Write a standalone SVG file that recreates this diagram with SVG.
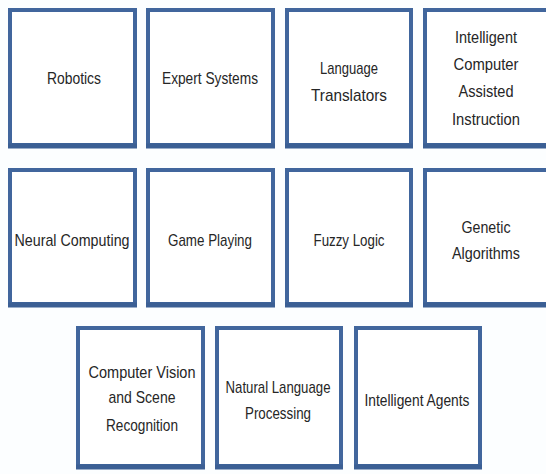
<svg xmlns="http://www.w3.org/2000/svg" width="546" height="474" viewBox="0 0 546 474">
<style>
.box rect{fill:#ffffff;stroke:#41669d;stroke-width:4}
.box line{stroke:#3b5f94;stroke-width:5}
.box text{font-family:"Liberation Sans","Noto Sans",sans-serif;font-size:17px;fill:#262626;text-anchor:middle}
</style>
<rect width="546" height="474" fill="#fcfeff"/>
<g id="robotics" class="box"><rect x="10" y="10" width="125" height="135"/><line x1="8" y1="146" x2="137" y2="146"/><text x="74" y="84" textLength="54" lengthAdjust="spacingAndGlyphs">Robotics</text></g>
<g id="expert-systems" class="box"><rect x="148" y="10" width="125" height="135"/><line x1="146" y1="146" x2="275" y2="146"/><text x="210" y="84" textLength="96" lengthAdjust="spacingAndGlyphs">Expert Systems</text></g>
<g id="language-translators" class="box"><rect x="287" y="10" width="124" height="135"/><line x1="285" y1="146" x2="413" y2="146"/><text x="349" y="74" textLength="58" lengthAdjust="spacingAndGlyphs">Language</text><text x="349" y="101" textLength="76" lengthAdjust="spacingAndGlyphs">Translators</text></g>
<g id="icai" class="box"><rect x="425" y="10" width="125" height="135"/><line x1="423" y1="146" x2="546" y2="146"/><text x="486" y="43" textLength="62" lengthAdjust="spacingAndGlyphs">Intelligent</text><text x="486" y="70" textLength="65" lengthAdjust="spacingAndGlyphs">Computer</text><text x="486" y="97" textLength="55" lengthAdjust="spacingAndGlyphs">Assisted</text><text x="486" y="125" textLength="68" lengthAdjust="spacingAndGlyphs">Instruction</text></g>
<g id="neural-computing" class="box"><rect x="10" y="170" width="125" height="134"/><line x1="8" y1="305" x2="137" y2="305"/><text x="72" y="246" textLength="115" lengthAdjust="spacingAndGlyphs">Neural Computing</text></g>
<g id="game-playing" class="box"><rect x="148" y="170" width="125" height="134"/><line x1="146" y1="305" x2="275" y2="305"/><text x="210" y="246" textLength="84" lengthAdjust="spacingAndGlyphs">Game Playing</text></g>
<g id="fuzzy-logic" class="box"><rect x="287" y="170" width="124" height="134"/><line x1="285" y1="305" x2="413" y2="305"/><text x="349" y="246" textLength="71" lengthAdjust="spacingAndGlyphs">Fuzzy Logic</text></g>
<g id="genetic-algorithms" class="box"><rect x="425" y="170" width="125" height="134"/><line x1="423" y1="305" x2="546" y2="305"/><text x="486" y="233" textLength="49" lengthAdjust="spacingAndGlyphs">Genetic</text><text x="486" y="259" textLength="68" lengthAdjust="spacingAndGlyphs">Algorithms</text></g>
<g id="computer-vision" class="box"><rect x="78" y="328" width="125" height="138"/><line x1="76" y1="467" x2="205" y2="467"/><text x="142" y="378" textLength="107" lengthAdjust="spacingAndGlyphs">Computer Vision</text><text x="142" y="403" textLength="67" lengthAdjust="spacingAndGlyphs">and Scene</text><text x="142" y="431" textLength="72" lengthAdjust="spacingAndGlyphs">Recognition</text></g>
<g id="nlp" class="box"><rect x="217" y="328" width="124" height="138"/><line x1="215" y1="467" x2="343" y2="467"/><text x="278" y="393" textLength="105" lengthAdjust="spacingAndGlyphs">Natural Language</text><text x="278" y="419" textLength="66" lengthAdjust="spacingAndGlyphs">Processing</text></g>
<g id="intelligent-agents" class="box"><rect x="356" y="328" width="124" height="138"/><line x1="354" y1="467" x2="482" y2="467"/><text x="417" y="406" textLength="105" lengthAdjust="spacingAndGlyphs">Intelligent Agents</text></g>
<g id="connectors"/>
</svg>
